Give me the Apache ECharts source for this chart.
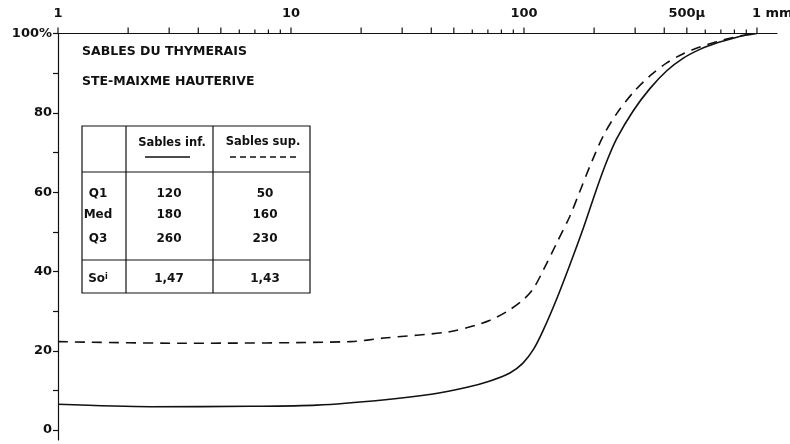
<!DOCTYPE html>
<html>
<head>
<meta charset="utf-8">
<script src="https://cdn.jsdelivr.net/npm/echarts@6/dist/echarts.min.js"></script>
<style>
  html, body { margin: 0; padding: 0; background: #fff; }
  #chart { width: 790px; height: 444px; }
</style>
</head>
<body>
<div id="chart"></div>
<script>
// grain size (µm) -> cumulative %
const infSizes = [1, 2.5, 6.7, 12.9, 24.8, 40.7, 57, 71.5, 87, 99, 110, 121, 138, 157, 180, 205, 226, 250, 295, 347, 410, 483, 569, 671, 791, 903, 1000];
const infPct   = [6.5, 5.9, 6.0, 6.3, 7.6, 9.1, 10.8, 12.4, 14.4, 16.9, 20.4, 25.2, 33.0, 41.5, 51.0, 60.8, 67.6, 73.5, 80.6, 86.1, 90.6, 93.8, 96.0, 97.6, 98.8, 99.6, 100];
const supSizes = [1, 3.4, 18, 25, 48, 62.6, 71.5, 84, 99, 110, 121, 138, 157, 174, 192, 219, 250, 295, 347, 410, 483, 569, 671, 791, 903, 1000];
const supPct   = [22.3, 21.9, 22.3, 23.2, 24.8, 26.5, 27.7, 29.8, 32.8, 35.8, 40.3, 47.1, 53.8, 60.3, 66.6, 74.2, 79.8, 85.2, 89.3, 92.6, 94.9, 96.6, 97.9, 99.0, 99.7, 100];

const xTicksLong  = [1, 2, 3, 4, 5, 10, 20, 30, 40, 50, 100, 200, 300, 400, 500, 1000];
const xTicksShort = [6, 7, 8, 9, 60, 70, 80, 90, 600, 700, 800, 900];
const xLabelVals  = [1, 10, 100, 500, 1000];
const xLabelText  = ['1', '10', '100', '500\u00b5', '1 mm'];
const yTickVals   = [0, 10, 20, 30, 40, 50, 60, 70, 80, 90, 100];
const yLabelVals  = [0, 20, 40, 60, 80, 100];

const titleLines = ['SABLES DU THYMERAIS', 'STE-MAIXME HAUTERIVE'];
const tableHeads = ['Sables inf.', 'Sables sup.'];
const tableRows  = ['Q1', 'Med', 'Q3'];
const tableInf   = ['120', '180', '260'];
const tableSup   = ['50', '160', '230'];
const tableSo    = ['1,47', '1,43'];

const FONT_FAMILY = '"DejaVu Sans", sans-serif';
const INK = '#111';

function tickSeries(values, len) {
  return {
    type: 'custom',
    silent: true,
    clip: false,
    data: values.map(v => [v, 100]),
    renderItem(params, api) {
      const p = api.coord([api.value(0), api.value(1)]);
      return {
        type: 'line',
        shape: { x1: p[0], y1: p[1], x2: p[0], y2: p[1] - len },
        style: { stroke: INK, lineWidth: 1.2 }
      };
    }
  };
}

// table layout (pixels)
const T = { x: 82, y: 126, r: 310, b: 293, c1: 126, c2: 213, h1: 172, h2: 260 };
const rowY = [194, 215, 239];
const colX = [98, 169, 265];

function txt(text, x, y, size, align) {
  return {
    type: 'text', x: x, y: y, silent: true,
    style: {
      text: text, fill: INK, align: align || 'center', verticalAlign: 'middle',
      font: 'bold ' + size + 'px ' + FONT_FAMILY
    }
  };
}
function ln(x1, y1, x2, y2, dash, w) {
  return {
    type: 'line', silent: true,
    shape: { x1: x1, y1: y1, x2: x2, y2: y2 },
    style: { stroke: INK, lineWidth: w || 1.2, lineDash: dash || null }
  };
}

const graphics = [];
titleLines.forEach((t, i) => graphics.push(txt(t, 82, 52 + i * 30, 12.5, 'left')));
graphics.push({
  type: 'rect', silent: true,
  shape: { x: T.x, y: T.y, width: T.r - T.x, height: T.b - T.y },
  style: { fill: '#fff', stroke: INK, lineWidth: 1.2 }
});
graphics.push(ln(T.c1, T.y, T.c1, T.b));
graphics.push(ln(T.c2, T.y, T.c2, T.b));
graphics.push(ln(T.x, T.h1, T.r, T.h1));
graphics.push(ln(T.x, T.h2, T.r, T.h2));
graphics.push(txt(tableHeads[0], 172, 143, 11.5));
graphics.push(txt(tableHeads[1], 263, 142, 11.5));
graphics.push(ln(145, 157, 190, 157, null, 1.6));
graphics.push(ln(230, 157, 300, 157, [6, 4], 1.6));
tableRows.forEach((r, i) => {
  graphics.push(txt(r, colX[0], rowY[i], 12));
  graphics.push(txt(tableInf[i], colX[1], rowY[i], 12));
  graphics.push(txt(tableSup[i], colX[2], rowY[i], 12));
});
graphics.push({
  type: 'text', x: colX[0], y: 279, silent: true,
  style: {
    text: '{a|So}{b|i}', align: 'center', verticalAlign: 'middle',
    rich: {
      a: { font: 'bold 12px ' + FONT_FAMILY, fill: INK },
      b: { font: 'bold 8px ' + FONT_FAMILY, fill: INK, verticalAlign: 'top' }
    }
  }
});
graphics.push(txt(tableSo[0], colX[1], 279, 12));
graphics.push(txt(tableSo[1], colX[2], 279, 12));

const chart = echarts.init(document.getElementById('chart'), null, { renderer: 'canvas' });
chart.setOption({
  backgroundColor: '#fff',
  animation: false,
  grid: { left: 58, right: 13, top: 33.5, bottom: 4 },
  xAxis: {
    type: 'log',
    logBase: 10,
    position: 'top',
    min: 1,
    max: 1219,
    axisLine: { onZero: false, lineStyle: { color: INK, width: 1.2 } },
    axisTick: { show: false },
    axisLabel: { show: false },
    splitLine: { show: false }
  },
  yAxis: {
    type: 'value',
    min: -2.5,
    max: 100,
    axisLine: { show: true, onZero: false, lineStyle: { color: INK, width: 1.2 } },
    axisTick: { show: true, customValues: yTickVals, length: 5, lineStyle: { color: INK, width: 1.2 } },
    axisLabel: {
      customValues: yLabelVals,
      margin: 6,
      color: INK,
      fontFamily: FONT_FAMILY,
      fontWeight: 'bold',
      fontSize: 13,
      formatter: v => (v === 100 ? '100%' : String(v))
    },
    splitLine: { show: false }
  },
  graphic: graphics,
  series: [
    {
      name: tableHeads[0],
      type: 'line',
      smooth: 0.3,
      symbol: 'none',
      data: infSizes.map((s, i) => [s, infPct[i]]),
      lineStyle: { color: INK, width: 1.6 }
    },
    {
      name: tableHeads[1],
      type: 'line',
      smooth: 0.3,
      symbol: 'none',
      data: supSizes.map((s, i) => [s, supPct[i]]),
      lineStyle: { color: INK, width: 1.6, type: [10, 7] }
    },
    tickSeries(xTicksLong, 6),
    tickSeries(xTicksShort, 4),
    {
      type: 'custom',
      silent: true,
      clip: false,
      data: xLabelVals.map(v => [v, 100]),
      renderItem(params, api) {
        const p = api.coord([api.value(0), api.value(1)]);
        const last = params.dataIndex === xLabelVals.length - 1;
        return {
          type: 'text',
          x: p[0] + (last ? -5 : 0),
          y: p[1] - 20,
          style: {
            text: xLabelText[params.dataIndex],
            fill: INK,
            align: last ? 'left' : 'center',
            verticalAlign: 'middle',
            font: 'bold 13px ' + FONT_FAMILY
          }
        };
      }
    }
  ]
});
</script>
</body>
</html>
